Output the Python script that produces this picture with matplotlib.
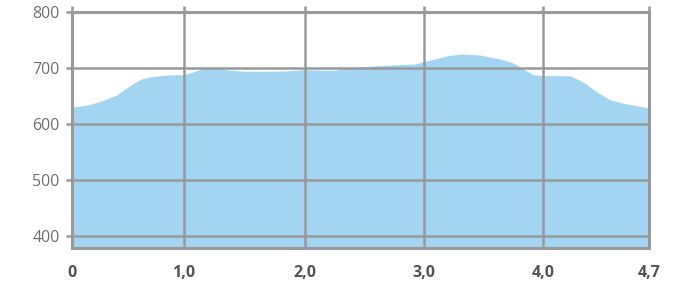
import numpy as np
import matplotlib
matplotlib.use("Agg")
import matplotlib.pyplot as plt

# profile points (position along the axis, altitude in m)
pos = [0.000, 0.121, 0.243, 0.390, 0.459, 0.529, 0.598, 0.676, 0.806, 0.962,
       1.040, 1.109, 1.196, 1.265, 1.369, 1.499, 1.716, 1.889, 2.019, 2.149,
       2.279, 2.409, 2.582, 2.842, 2.972, 3.042, 3.146, 3.258, 3.380, 3.536,
       3.709, 3.821, 3.908, 3.995, 4.116, 4.315, 4.428, 4.549, 4.662, 4.775,
       4.983, 5.000]
alt = [630, 633, 640, 652, 662, 672, 680, 684, 687, 688,
       692, 697, 700, 700, 696, 694, 694, 695, 697, 696,
       696, 700, 703, 706, 707, 711, 716, 722, 725, 723,
       716, 709, 699, 688, 686, 686, 675, 657, 643, 637,
       629, 628]

tick_pos = [0, 0.97, 2.02, 3.05, 4.08, 5.0]
tick_labels = ["0", "1,0", "2,0", "3,0", "4,0", "4,7"]
y_ticks = [400, 500, 600, 700, 800]

plt.rcParams['font.family'] = ['Open Sans', 'DejaVu Sans']

fig = plt.figure(figsize=(6.82, 2.84), dpi=100)
ax = fig.add_axes([0.1056, 0.1268, 0.846, 0.831])

ax.fill_between(pos, alt, 378, color="#a3d5f3", lw=0, zorder=1)

ax.set_xlim(0, 5.0)
ax.set_ylim(378, 800)
ax.set_xticks(tick_pos)
ax.set_xticklabels(tick_labels, fontweight="bold", color="#555555", fontsize=11.5)
ax.set_yticks(y_ticks)
ax.set_yticklabels([str(v) for v in y_ticks], color="#707070", fontsize=11.5)
ax.tick_params(axis="y", length=4, width=1.8, color="#999999", pad=5)
ax.tick_params(axis="x", length=4, width=1.8, color="#999999", pad=8,
               top=True, bottom=False)

ax.grid(True, color="#999999", lw=1.8, zorder=2)
ax.set_axisbelow(False)
for s in ax.spines.values():
    s.set_color("#999999")
    s.set_linewidth(2.2)

fig.savefig("out.png", dpi=100)
